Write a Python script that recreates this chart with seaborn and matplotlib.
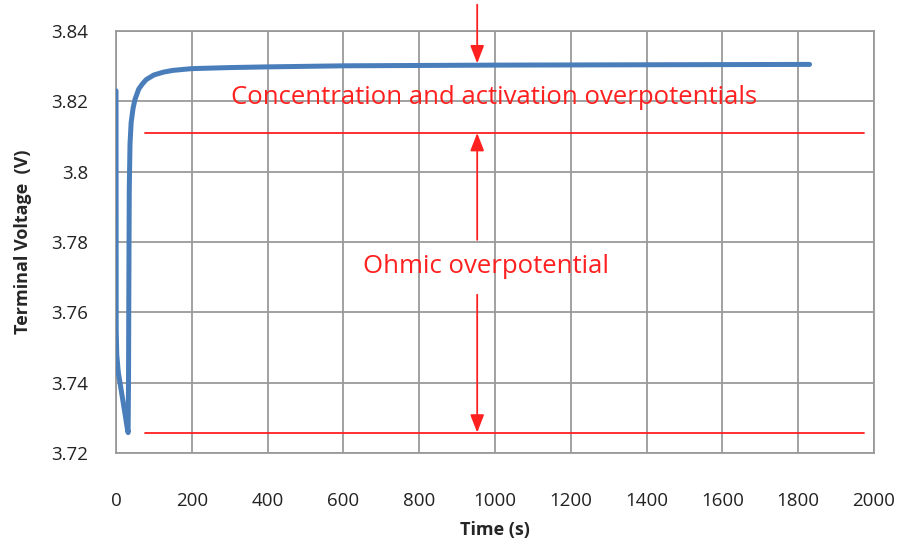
import numpy as np
import pandas as pd
import matplotlib
matplotlib.use("Agg")
import matplotlib.pyplot as plt
import seaborn as sns

# Terminal voltage response after a current step
time_s = [0, 0.5, 2, 6, 12, 18, 24, 29, 32, 33, 34, 35, 37, 40, 45, 50, 60, 70, 80,
          100, 125, 150, 200, 300, 400, 600, 800, 1000, 1400, 1830]
voltage_v = [3.8230, 3.7550, 3.7480, 3.7430, 3.7390, 3.7350, 3.7310, 3.7275, 3.7258,
             3.7400, 3.7700, 3.7950, 3.8080, 3.8140, 3.8180, 3.8205, 3.8235, 3.8250,
             3.8262, 3.8275, 3.8283, 3.8288, 3.8293, 3.8296, 3.8298, 3.8301, 3.8302,
             3.8303, 3.8304, 3.8305]

# Reference levels and annotation positions
level_ohmic_top = 3.811
level_min = 3.7258
level_steady = 3.8305
ref_line_x = [76, 1973]
arrow_x = 953
label_conc = "Concentration and activation overpotentials"
label_ohmic = "Ohmic overpotential"

df = pd.DataFrame({"Time (s)": time_s, "Terminal Voltage  (V)": voltage_v})

sns.set_theme(style="whitegrid")
plt.rcParams["font.family"] = ["Open Sans", "DejaVu Sans"]

fig = plt.figure(figsize=(9.06, 5.44), dpi=100)
ax = fig.add_axes([116 / 906, 1 - 453 / 544, (874 - 116) / 906, (453 - 31) / 544])

sns.lineplot(data=df, x="Time (s)", y="Terminal Voltage  (V)", ax=ax,
             color="#4a7ebb", linewidth=3.6, solid_capstyle="round", zorder=3)

red = "#ff2020"
for lvl in (level_ohmic_top, level_min):
    ax.plot(ref_line_x, [lvl, lvl], color=red, linewidth=1.3, zorder=2)

arrow_kw = dict(arrowstyle="-|>,head_width=0.35,head_length=0.9", color=red,
                linewidth=1.3, shrinkA=0, shrinkB=0)
ax.annotate("", xy=(arrow_x, level_steady + 0.0003), xytext=(arrow_x, 3.8475),
            arrowprops=arrow_kw, annotation_clip=False)
ax.annotate("", xy=(arrow_x, level_ohmic_top), xytext=(arrow_x, 3.7806),
            arrowprops=arrow_kw)
ax.annotate("", xy=(arrow_x, level_min), xytext=(arrow_x, 3.7650),
            arrowprops=arrow_kw)

ax.text(997, 3.8210, label_conc, color=red, fontsize=18.5, ha="center", va="center")
ax.text(975, 3.7730, label_ohmic, color=red, fontsize=18.5, ha="center", va="center")

ax.set_xlim(0, 2000)
ax.set_ylim(3.72, 3.84)
ax.set_xticks(np.arange(0, 2001, 200))
ax.set_yticks(np.round(np.arange(3.72, 3.8401, 0.02), 2))
ax.set_yticklabels(["3.72", "3.74", "3.76", "3.78", "3.8", "3.82", "3.84"])
ax.tick_params(labelsize=13.5, colors="#222222", length=0)
ax.tick_params(axis="x", pad=28)
ax.tick_params(axis="y", pad=20)
ax.set_xlabel("Time (s)", fontsize=13, fontweight="bold", labelpad=8)
ax.set_ylabel("Terminal Voltage  (V)", fontsize=13, fontweight="bold", labelpad=14)

ax.grid(True, color="#9a9a9a", linewidth=1.3)
for sp in ax.spines.values():
    sp.set_color("#9a9a9a")
    sp.set_linewidth(1.3)
ax.set_facecolor("white")

fig.savefig("out.png", dpi=100)
